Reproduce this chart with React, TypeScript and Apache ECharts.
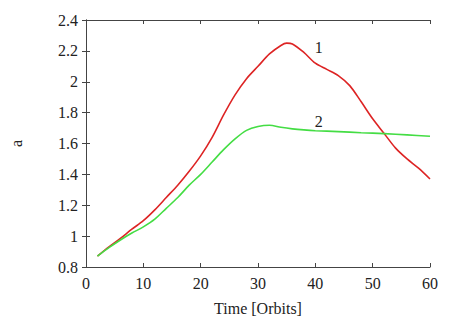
import React, { useEffect, useRef } from "react";
import * as echarts from "echarts";

const timeRed = [2, 4, 6, 8, 10, 12, 14, 16, 18, 20, 22, 24, 26, 28, 30, 32, 34, 35, 36, 38, 40, 42, 44, 46, 48, 50, 52, 54, 56, 58, 60];
const valuesRed = [0.87, 0.93, 0.985, 1.045, 1.1, 1.17, 1.25, 1.33, 1.42, 1.52, 1.64, 1.785, 1.915, 2.02, 2.1, 2.18, 2.235, 2.25, 2.245, 2.19, 2.12, 2.08, 2.04, 1.975, 1.87, 1.76, 1.665, 1.57, 1.5, 1.44, 1.37];
const timeGreen = [2, 4, 6, 8, 10, 12, 14, 16, 18, 20, 22, 24, 26, 28, 30, 32, 34, 36, 38, 40, 44, 48, 52, 56, 60];
const valuesGreen = [0.87, 0.925, 0.975, 1.02, 1.06, 1.11, 1.18, 1.25, 1.33, 1.4, 1.48, 1.56, 1.63, 1.685, 1.71, 1.718, 1.705, 1.695, 1.688, 1.683, 1.677, 1.67, 1.664, 1.656, 1.647];
const seriesLabels = ["1", "2"];
const labelPositions: [number, number][] = [[40.6, 2.22], [40.6, 1.74]];

const FONT = "Liberation Serif";
const AXIS_COLOR = "#444";

export default function App() {
  const ref = useRef<HTMLDivElement>(null);
  useEffect(() => {
    if (!ref.current) return;
    const chart = echarts.init(ref.current, undefined, { renderer: "svg" });
    const tickCommon = { show: true, inside: true, length: 4, lineStyle: { color: AXIS_COLOR } };
    const lineCommon = { show: true, lineStyle: { color: AXIS_COLOR, width: 1 } };
    const labelStyle = { fontFamily: FONT, fontSize: 16, color: "#222" };
    const mk = (i: number) => ({
      symbol: "circle",
      symbolSize: 1,
      itemStyle: { color: "rgba(0,0,0,0)" },
      label: { show: true, formatter: seriesLabels[i], position: "inside", ...labelStyle },
      data: [{ coord: labelPositions[i] }],
    });
    chart.setOption({
      animation: false,
      backgroundColor: "#fff",
      grid: { left: 84, right: 28, top: 20, bottom: 51, containLabel: false },
      xAxis: [
        {
          type: "value", min: 0, max: 60, interval: 10, position: "bottom",
          axisLine: lineCommon, axisTick: tickCommon, splitLine: { show: false },
          axisLabel: { ...labelStyle, margin: 8 },
          name: "Time [Orbits]", nameLocation: "middle", nameGap: 33,
          nameTextStyle: { ...labelStyle },
        },
        {
          type: "value", min: 0, max: 60, interval: 10, position: "top",
          axisLine: lineCommon, axisTick: tickCommon, splitLine: { show: false },
          axisLabel: { show: false },
        },
      ],
      yAxis: [
        {
          type: "value", min: 0.8, max: 2.4, interval: 0.2, position: "left",
          axisLine: lineCommon, axisTick: tickCommon, splitLine: { show: false },
          axisLabel: { ...labelStyle, margin: 8 },
          name: "a", nameLocation: "middle", nameGap: 62, nameRotate: 90,
          nameTextStyle: { ...labelStyle },
        },
        {
          type: "value", min: 0.8, max: 2.4, interval: 0.2, position: "right",
          axisLine: lineCommon, axisTick: tickCommon, splitLine: { show: false },
          axisLabel: { show: false },
        },
      ],
      series: [
        {
          type: "line", xAxisIndex: 0, yAxisIndex: 0,
          data: timeRed.map((t, i) => [t, valuesRed[i]]),
          showSymbol: false, smooth: 0.3,
          lineStyle: { color: "#dd2424", width: 1.6 },
          markPoint: mk(0),
        },
        {
          type: "line", xAxisIndex: 0, yAxisIndex: 0,
          data: timeGreen.map((t, i) => [t, valuesGreen[i]]),
          showSymbol: false, smooth: 0.3,
          lineStyle: { color: "#44dd44", width: 1.6 },
          markPoint: mk(1),
        },
      ],
    });
    return () => chart.dispose();
  }, []);
  return (
    <div
      ref={ref}
      style={{ position: "fixed", left: 0, top: 0, width: 458, height: 321 }}
    />
  );
}
